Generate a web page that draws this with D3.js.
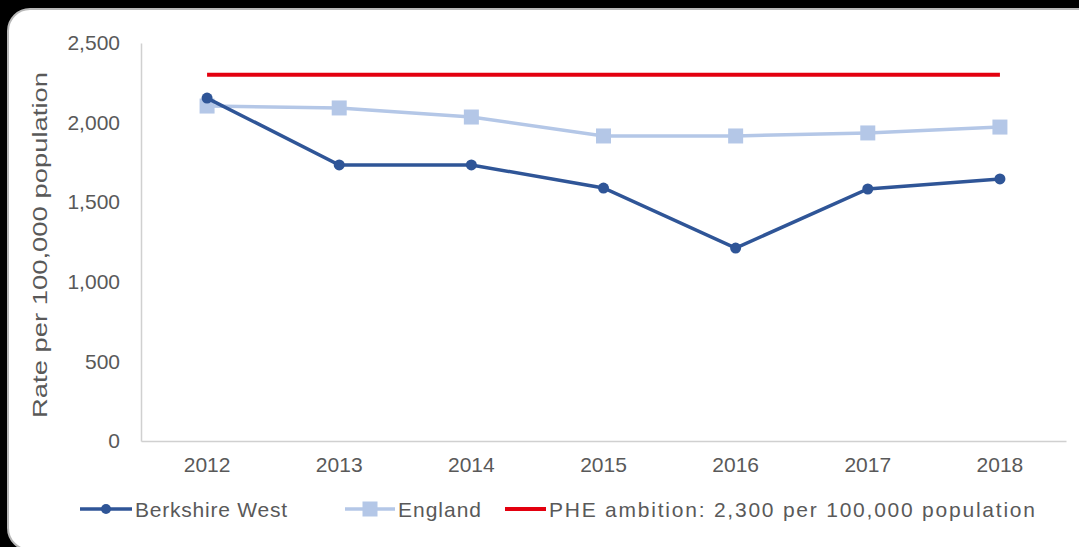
<!DOCTYPE html>
<html>
<head>
<meta charset="utf-8">
<script src="https://cdn.jsdelivr.net/npm/d3@7"></script>
<style>
  html, body { margin: 0; padding: 0; background: #000; }
  svg { display: block; }
  text { font-family: "Liberation Sans", Arial, sans-serif; fill: #595959; }
</style>
</head>
<body>
<svg id="chart" width="1079" height="547"></svg>
<script>
// Chlamydia detection rate per 100,000 population
const years = ["2012", "2013", "2014", "2015", "2016", "2017", "2018"];
const berkshireWest = [2154, 1734, 1734, 1589, 1212, 1583, 1646];
const england = [2104, 2092, 2035, 1916, 1916, 1935, 1972];
const ambition = 2300;
const yTicks = [0, 500, 1000, 1500, 2000, 2500];
const seriesNames = ["Berkshire West", "England", "PHE ambition: 2,300 per 100,000 population"];
const yTitle = "Rate per 100,000 population";

const W = 1079, H = 547;
const margin = { left: 141, right: 13, top: 43, bottom: 106 };
const colors = { bw: "#2F5597", eng: "#B4C7E7", phe: "#E3000F", axis: "#D0D0D0" };

const svg = d3.select("#chart");

// card background
svg.append("rect").attr("x", 0).attr("y", 0).attr("width", W).attr("height", H).attr("fill", "#000");
svg.append("rect")
  .attr("x", 8).attr("y", 9).attr("width", W + 20).attr("height", H - 6)
  .attr("rx", 22).attr("ry", 22)
  .attr("fill", "#fff").attr("stroke", "#b8b8b8").attr("stroke-width", 2);

const x = d3.scaleBand().domain(years).range([margin.left, W - margin.right]);
const y = d3.scaleLinear().domain([0, 2500]).range([H - margin.bottom, margin.top]);
const cx = d => x(d) + x.bandwidth() / 2;

// axes
const yAxis = svg.append("g").attr("transform", `translate(${margin.left},0)`)
  .call(d3.axisLeft(y).tickValues(yTicks).tickFormat(d3.format(",")).tickSize(0).tickPadding(21));
yAxis.select(".domain").attr("stroke", colors.axis).attr("stroke-width", 1.5);
yAxis.selectAll("text").style("font-size", "21px").attr("fill", "#595959");

const xAxis = svg.append("g").attr("transform", `translate(0,${y(0)})`)
  .call(d3.axisBottom(x).tickSize(0).tickPadding(16));
xAxis.select(".domain").attr("stroke", colors.axis).attr("stroke-width", 1.5);
xAxis.selectAll("text").style("font-size", "21px").attr("fill", "#595959");

// y axis title, spaced out along the axis
svg.append("text")
  .attr("transform", `translate(47,${(y(0) + y(2500)) / 2 + 3}) rotate(-90)`)
  .attr("text-anchor", "middle")
  .attr("textLength", 346).attr("lengthAdjust", "spacingAndGlyphs")
  .style("font-size", "20px")
  .text(yTitle);

// PHE ambition line
svg.append("line")
  .attr("x1", cx(years[0])).attr("x2", cx(years[years.length - 1]))
  .attr("y1", y(ambition)).attr("y2", y(ambition))
  .attr("stroke", colors.phe).attr("stroke-width", 4);

const line = d3.line().x((d, i) => cx(years[i])).y(d => y(d));

// England
svg.append("path").datum(england)
  .attr("d", line).attr("fill", "none")
  .attr("stroke", colors.eng).attr("stroke-width", 3.5);
svg.selectAll(".eng-pt").data(england).join("rect")
  .attr("class", "eng-pt")
  .attr("x", (d, i) => cx(years[i]) - 7.5).attr("y", d => y(d) - 7.5)
  .attr("width", 15).attr("height", 15)
  .attr("fill", colors.eng);

// Berkshire West
svg.append("path").datum(berkshireWest)
  .attr("d", line).attr("fill", "none")
  .attr("stroke", colors.bw).attr("stroke-width", 3.5);
svg.selectAll(".bw-pt").data(berkshireWest).join("circle")
  .attr("class", "bw-pt")
  .attr("cx", (d, i) => cx(years[i])).attr("cy", d => y(d))
  .attr("r", 5.5).attr("fill", colors.bw);

// legend
const ly = 509;
const legend = svg.append("g");
const items = [
  { name: seriesNames[0], color: colors.bw, x0: 80, x1: 132, marker: "circle", tx: 135, len: 152 },
  { name: seriesNames[1], color: colors.eng, x0: 345, x1: 395, marker: "square", tx: 398, len: 83 },
  { name: seriesNames[2], color: colors.phe, x0: 505, x1: 546, marker: null, tx: 549, len: 486 }
];
items.forEach(it => {
  legend.append("line").attr("x1", it.x0).attr("x2", it.x1).attr("y1", ly).attr("y2", ly)
    .attr("stroke", it.color).attr("stroke-width", it.marker ? 3.5 : 4);
  const mx = (it.x0 + it.x1) / 2;
  if (it.marker === "circle") {
    legend.append("circle").attr("cx", mx).attr("cy", ly).attr("r", 5).attr("fill", it.color);
  } else if (it.marker === "square") {
    legend.append("rect").attr("x", mx - 7.5).attr("y", ly - 7.5).attr("width", 15).attr("height", 15).attr("fill", it.color);
  }
  legend.append("text").attr("x", it.tx).attr("y", ly + 7.5)
    .attr("textLength", it.len).attr("lengthAdjust", "spacing")
    .style("font-size", "21px").text(it.name);
});
</script>
</body>
</html>
